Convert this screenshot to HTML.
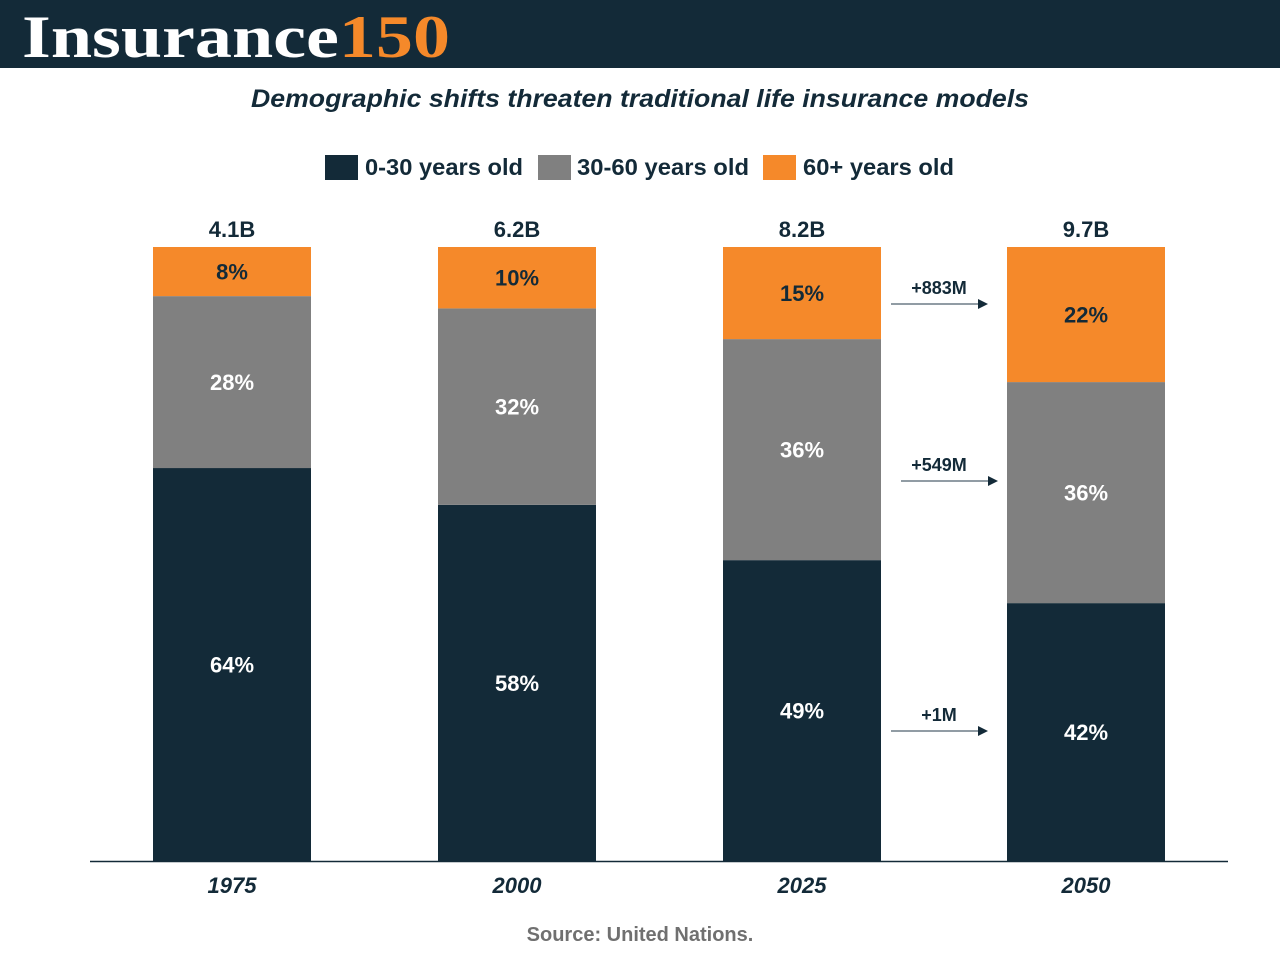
<!DOCTYPE html>
<html><head><meta charset="utf-8"><style>
body{margin:0;width:1280px;height:960px;background:#fff;font-family:"Liberation Sans",sans-serif;overflow:hidden}
</style></head><body>
<svg width="1280" height="960">
<rect x="0" y="0" width="1280" height="68" fill="#132a38"/>
<text x="22" y="57" font-family="Liberation Serif" font-weight="bold" font-size="60" fill="#fff" textLength="428" lengthAdjust="spacingAndGlyphs">Insurance<tspan fill="#f5892a">150</tspan></text>
<text x="640" y="107" text-anchor="middle" font-weight="bold" font-style="italic" font-size="25" fill="#132a38" textLength="778" lengthAdjust="spacingAndGlyphs">Demographic shifts threaten traditional life insurance models</text>
<g font-weight="bold" font-size="23" fill="#132a38">
<rect x="325" y="155" width="33" height="25" fill="#132a38"/>
<text x="365" y="175" textLength="158" lengthAdjust="spacingAndGlyphs">0-30 years old</text>
<rect x="538" y="155" width="33" height="25" fill="#808080"/>
<text x="577" y="175" textLength="172" lengthAdjust="spacingAndGlyphs">30-60 years old</text>
<rect x="763" y="155" width="33" height="25" fill="#f5892a"/>
<text x="803" y="175" textLength="151" lengthAdjust="spacingAndGlyphs">60+ years old</text>
</g>
<g id="bars"></g>
<line x1="90" y1="861.5" x2="1228" y2="861.5" stroke="#132a38" stroke-width="1.5"/>
<text x="640" y="941" text-anchor="middle" font-weight="bold" font-size="20" fill="#707070">Source: United Nations.</text>
</svg>
<script>
const years=["1975","2000","2025","2050"];
const totals=["4.1B","6.2B","8.2B","9.7B"];
const young=[64,58,49,42];
const middle=[28,32,36,36];
const old=[8,10,15,22];
const changes=["+883M","+549M","+1M"];
const NS="http://www.w3.org/2000/svg";
const g=document.getElementById('bars');
const top0=247,bot=861,H=bot-top0,W=158;
const xs=[153,438,723,1007];
function yv(p){return bot-p/100*H;}
function mk(t,a){const e=document.createElementNS(NS,t);for(const k in a)e.setAttribute(k,a[k]);g.appendChild(e);return e;}
const cols=["#132a38","#808080","#f5892a"];
const names=["young","middle","old"];
years.forEach((y,i)=>{
  const segs=[young[i],middle[i],old[i]];
  let cum=0;
  segs.forEach((v,j)=>{
    const y1=yv(cum+v),y0=yv(cum);
    const r=mk('rect',{x:xs[i],y:y1,width:W,height:y0-y1,fill:cols[j]});
    
    
    const t=mk('text',{x:xs[i]+W/2,y:(y0+y1)/2+8,'text-anchor':'middle','font-weight':'bold','font-size':22,fill:j==2?'#132a38':'#fff'});
    t.textContent=v+'%';
    
    
    cum+=v;
  });
  const tt=mk('text',{x:xs[i]+W/2,y:top0-10,'text-anchor':'middle','font-weight':'bold','font-size':22,fill:'#132a38'});
  tt.textContent=totals[i];
  
  
  const xl=mk('text',{x:xs[i]+W/2,y:893,'text-anchor':'middle','font-weight':'bold','font-style':'italic','font-size':22,fill:'#132a38'});
  xl.textContent=y;
  
  
});
const order=[2,1,0];
const ax0=[891,901,891];
const ays=[304,481,731];
order.forEach((j,k)=>{
  const yy=ays[k];
  const x0=ax0[k],x1=x0+97;
  const l=mk('line',{x1:x0,y1:yy,x2:x1-8,y2:yy,stroke:'#6d7c85','stroke-width':1.5});
  
  
  const p=mk('polygon',{points:`${x1},${yy} ${x1-10},${yy-5} ${x1-10},${yy+5}`,fill:'#132a38'});
  
  
  const t=mk('text',{x:939,y:yy-10,'text-anchor':'middle','font-weight':'bold','font-size':18,fill:'#132a38'});
  t.textContent=changes[k];
  
  
});
</script>
</body></html>
